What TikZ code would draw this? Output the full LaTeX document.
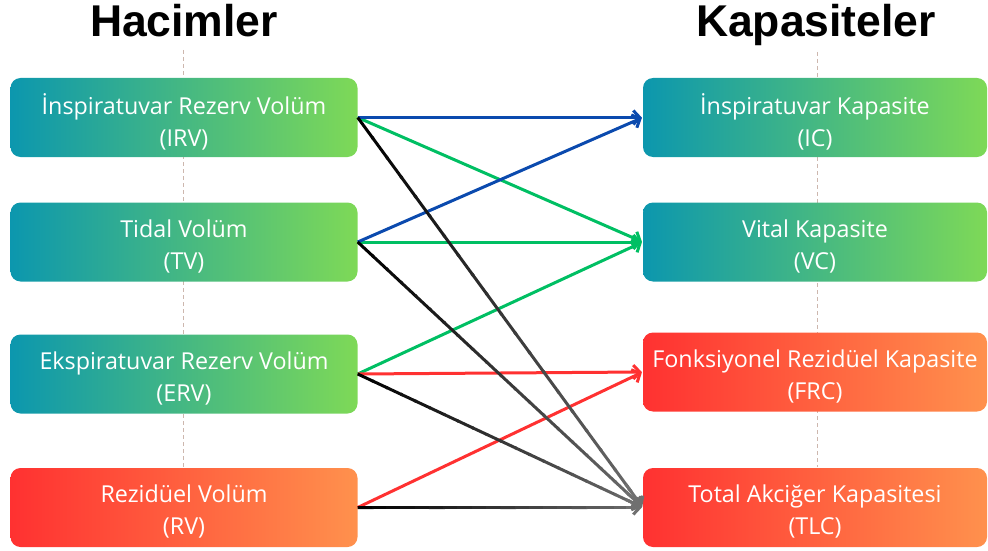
\documentclass[tikz,border=0pt]{standalone}
\usepackage{fontspec}
\setmainfont{Open Sans}
\newfontfamily\headfont{Liberation Sans}
\usetikzlibrary{arrows.meta,calc}

\definecolor{tealA}{HTML}{0C97AE}
\definecolor{greenB}{HTML}{7ED957}
\definecolor{redA}{HTML}{FF3131}
\definecolor{orangeB}{HTML}{FF914D}
\definecolor{lnBlue}{HTML}{0B4AAE}
\definecolor{lnGreen}{HTML}{00BF63}
\definecolor{lnRed}{HTML}{FF3131}
\definecolor{lnGrey}{HTML}{707070}
\definecolor{guideCol}{HTML}{CDB7AE}

% black connector that lightens towards its tip
\newcommand{\fadeconn}[2]{%
  \foreach \fdK in {0,...,19}{%
    \pgfmathsetmacro{\fdA}{\fdK/20}%
    \pgfmathsetmacro{\fdB}{min((\fdK+1)/20+0.006,0.96)}%
    \pgfmathsetmacro{\fdM}{100-\fdK*5}%
    \draw[conn, draw=black!\fdM!lnGrey] ($(#1)!\fdA!(#2)$) -- ($(#1)!\fdB!(#2)$);
  }%
  \draw[conn, arr, draw=lnGrey] ($(#1)!0.94!(#2)$) -- (#2);
}

\begin{document}
\begin{tikzpicture}[x=1pt,y=-1pt,
  box/.style={rounded corners=10pt, minimum width=347pt, minimum height=79pt,
    inner sep=0pt,
    label={[boxtext]center:#1}},
  capbox/.style={box={#1}, minimum width=344pt},
  boxtext/.style={align=center, text=white, yshift=-4pt,
    font=\fontsize{23.3}{32}\selectfont},
  cool/.style={left color=tealA, right color=greenB},
  warm/.style={left color=redA, right color=orangeB},
  head/.style={anchor=base, font=\headfont\bfseries\fontsize{44.5}{44.5}\selectfont},
  guide/.style={draw=guideCol, line width=1pt, dash pattern=on 4pt off 3pt},
  conn/.style={line width=3pt},
  arr/.style={-{Straight Barb[length=6.5pt,width=14pt]}, shorten >=1pt}]

\useasboundingbox (0,0) rectangle (988,551);

% column titles
\node[head] (tHac) at (184,37) {Hacimler};
\node[head] (tKap) at (816,37) {Kapasiteler};

% dashed column guides
\coordinate (gL1) at (183,50);  \coordinate (gL2) at (183,467);
\coordinate (gR1) at (817,52);  \coordinate (gR2) at (817,467);
\draw[guide] (gL1) -- (gL2);
\draw[guide] (gR1) -- (gR2);

% volumes
\node[box={İnspiratuvar Rezerv Volüm\\(IRV)}, cool] (irv) at (184,117.5) {};
\node[box={Tidal Volüm\\(TV)}, cool]                 (tv)  at (184,242)   {};
\node[box={Ekspiratuvar Rezerv Volüm\\(ERV)}, cool]  (erv) at (184,374)   {};
\node[box={Rezidüel Volüm\\(RV)}, warm]              (rv)  at (184,507.5) {};

% capacities
\node[capbox={İnspiratuvar Kapasite\\(IC)}, cool]           (ic)  at (815,117.5) {};
\node[capbox={Vital Kapasite\\(VC)}, cool]                  (vc)  at (815,242)   {};
\node[capbox={Fonksiyonel Rezidüel Kapasite\\(FRC)}, warm]  (frc) at (815,372)   {};
\node[capbox={Total Akciğer Kapasitesi\\(TLC)}, warm]       (tlc) at (815,507.5) {};

% connectors
\draw[conn, arr, lnGreen] (irv.east) -- (vc.west);
\draw[conn, arr, lnGreen] (tv.east)  -- (vc.west);
\draw[conn, arr, lnGreen] (erv.east) -- (vc.west);
\draw[conn, arr, lnBlue]  (irv.east) -- (ic.west);
\draw[conn, arr, lnBlue]  (tv.east)  -- (ic.west);
\draw[conn, arr, lnRed]   (erv.east) -- (frc.west);
\draw[conn, arr, lnRed]   (rv.east)  -- (frc.west);
\fadeconn{irv.east}{tlc.west}
\fadeconn{tv.east}{tlc.west}
\fadeconn{erv.east}{tlc.west}
\fadeconn{rv.east}{tlc.west}
\end{tikzpicture}
\end{document}
